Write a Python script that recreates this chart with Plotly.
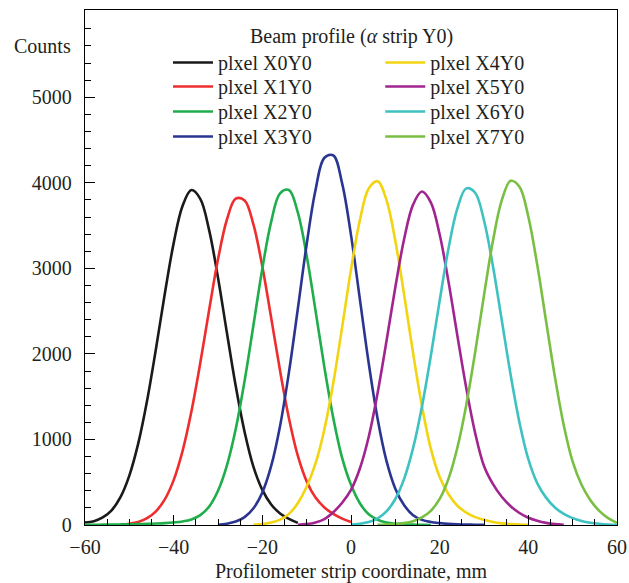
import plotly.graph_objects as go

# ---- data (counts vs strip coordinate, mm) ----
PIXEL_NAMES = ["plxel X0Y0", "plxel X1Y0", "plxel X2Y0", "plxel X3Y0",
               "plxel X4Y0", "plxel X5Y0", "plxel X6Y0", "plxel X7Y0"]
COLORS = ["#1a1a1a", "#ee2e2e", "#1fae4b", "#2a3591",
          "#f2d411", "#a1248f", "#3ec2c1", "#79bf43"]

X0Y0_X = list(range(-60, -11, 2))
X0Y0_COUNTS = [30, 45, 88, 172, 326, 578, 951, 1452, 2057, 2703, 3295, 3729, 3915,
               3813, 3447, 2891, 2250, 1624, 1088, 680, 410, 240, 135, 72, 25]

X1Y0_X = list(range(-52, 1, 2))
X1Y0_COUNTS = [5, 15, 35, 80, 160, 300, 525, 864, 1326, 1893, 2513, 3105, 3568, 3815,
               3794, 3511, 3022, 2420, 1802, 1249, 810, 510, 320, 205, 130, 75, 35]

X2Y0_X = list(range(-60, 19, 2))
X2Y0_COUNTS = [3, 3, 4, 5, 6, 8, 10, 13, 17, 22, 30, 42, 65, 115, 215, 400, 695, 1122,
               1685, 2338, 2996, 3546, 3877, 3916, 3653, 3148, 2506, 1843, 1252, 785,
               470, 255, 125, 62, 30, 15, 8, 4, 2, 0]

X3Y0_X = list(range(-30, 31, 2))
X3Y0_COUNTS = [3, 15, 40, 92, 195, 380, 690, 1158, 1784, 2525, 3282, 3917, 4293, 4321,
               3993, 3389, 2641, 1890, 1242, 750, 425, 230, 115, 60, 35, 22, 13, 8, 5, 3, 1]

X4Y0_X = list(range(-22, 41, 2))
X4Y0_COUNTS = [3, 10, 28, 62, 130, 255, 450, 720, 1120, 1659, 2313, 2985, 3563, 3934,
               4019, 3799, 3321, 2687, 2011, 1393, 892, 560, 360, 225, 145, 92, 60, 35,
               19, 10, 4, 1]

X5Y0_X = list(range(-12, 49, 2))
X5Y0_COUNTS = [2, 10, 30, 70, 150, 260, 410, 660, 1031, 1543, 2148, 2780, 3346, 3745,
               3898, 3772, 3395, 2842, 2211, 1600, 1077, 690, 480, 330, 220, 140, 85,
               50, 25, 10, 3]

X6Y0_X = list(range(0, 61, 2))
X6Y0_COUNTS = [5, 14, 34, 76, 158, 304, 542, 898, 1383, 1976, 2623, 3234, 3702, 3935,
               3884, 3560, 3031, 2396, 1759, 1199, 770, 490, 320, 205, 130, 80, 48, 27,
               14, 6, 2]

X7Y0_X = list(range(6, 61, 2))
X7Y0_COUNTS = [2, 6, 12, 22, 45, 88, 165, 305, 542, 906, 1404, 2017, 2686, 3316, 3794,
               4023, 3955, 3604, 3044, 2383, 1730, 1164, 740, 470, 290, 165, 80, 25]

X_TICKS = [-60, -40, -20, 0, 20, 40, 60]
Y_TICKS = [0, 1000, 2000, 3000, 4000, 5000]
Y_MINOR = list(range(200, 6000, 200))

SERIES_X = [X0Y0_X, X1Y0_X, X2Y0_X, X3Y0_X, X4Y0_X, X5Y0_X, X6Y0_X, X7Y0_X]
SERIES_Y = [X0Y0_COUNTS, X1Y0_COUNTS, X2Y0_COUNTS, X3Y0_COUNTS,
            X4Y0_COUNTS, X5Y0_COUNTS, X6Y0_COUNTS, X7Y0_COUNTS]

FONT = "Liberation Serif, Times New Roman, serif"
TXT = "#231f20"

# legend layout: two columns of four entries
LEGEND_COL_X = [0.156, 0.555]
LEGEND_ROW_Y = [0.9359, 0.8893, 0.8408, 0.7922]

fig = go.Figure()
legend_layouts = {}
for i, (xs, ys) in enumerate(zip(SERIES_X, SERIES_Y)):
    key = "legend" if i == 0 else f"legend{i + 1}"
    fig.add_trace(go.Scatter(
        x=xs, y=ys, mode="lines", name=PIXEL_NAMES[i],
        line=dict(color=COLORS[i], width=2.6, shape="spline", smoothing=1.0),
        legend=key,
    ))
    legend_layouts[key] = dict(
        x=LEGEND_COL_X[i // 4], y=LEGEND_ROW_Y[i % 4],
        orientation="v", xanchor="left", yanchor="top",
        bgcolor="rgba(0,0,0,0)", borderwidth=0, itemwidth=40,
        font=dict(family=FONT, size=20, color=TXT),
    )

fig.update_layout(
    width=629, height=583,
    margin=dict(l=85, r=12, t=10, b=58, autoexpand=False),
    paper_bgcolor="white", plot_bgcolor="white",
    font=dict(family=FONT, size=20, color=TXT),
    showlegend=True,
    xaxis=dict(
        range=[-60, 60], tickvals=X_TICKS, automargin=False,
        ticks="inside", ticklen=10, tickwidth=1.2, tickcolor="black",
        minor=dict(dtick=5, ticks="inside", ticklen=6, tickwidth=1.2, tickcolor="black"),
        showline=True, linecolor="black", linewidth=1.3, mirror=True,
        showgrid=False, zeroline=False, ticklabelstandoff=4,
        tickfont=dict(family=FONT, size=20, color=TXT),
        title=dict(text="Profilometer strip coordinate, mm",
                   font=dict(family=FONT, size=20, color=TXT), standoff=6),
    ),
    yaxis=dict(
        range=[0, 6020], tickvals=Y_TICKS, automargin=False,
        ticks="inside", ticklen=10, tickwidth=1.2, tickcolor="black",
        minor=dict(tickvals=Y_MINOR, ticks="inside", ticklen=6, tickwidth=1.2,
                   tickcolor="black"),
        showline=True, linecolor="black", linewidth=1.3, mirror=True,
        showgrid=False, zeroline=False, ticklabelstandoff=8,
        tickfont=dict(family=FONT, size=20, color=TXT),
    ),
    annotations=[
        dict(text="Counts", xref="paper", yref="paper", x=-0.022, y=0.93,
             xanchor="right", yanchor="middle", showarrow=False,
             font=dict(family=FONT, size=20, color=TXT)),
        dict(text="Beam profile (<i>α</i> strip Y0)", xref="paper", yref="paper",
             x=0.5, y=0.9495, xanchor="center", yanchor="middle", showarrow=False,
             font=dict(family=FONT, size=20, color=TXT)),
    ],
    **legend_layouts,
)

fig.write_html("out.html", config={"displayModeBar": False},
               post_script="document.body.style.margin='0';")
